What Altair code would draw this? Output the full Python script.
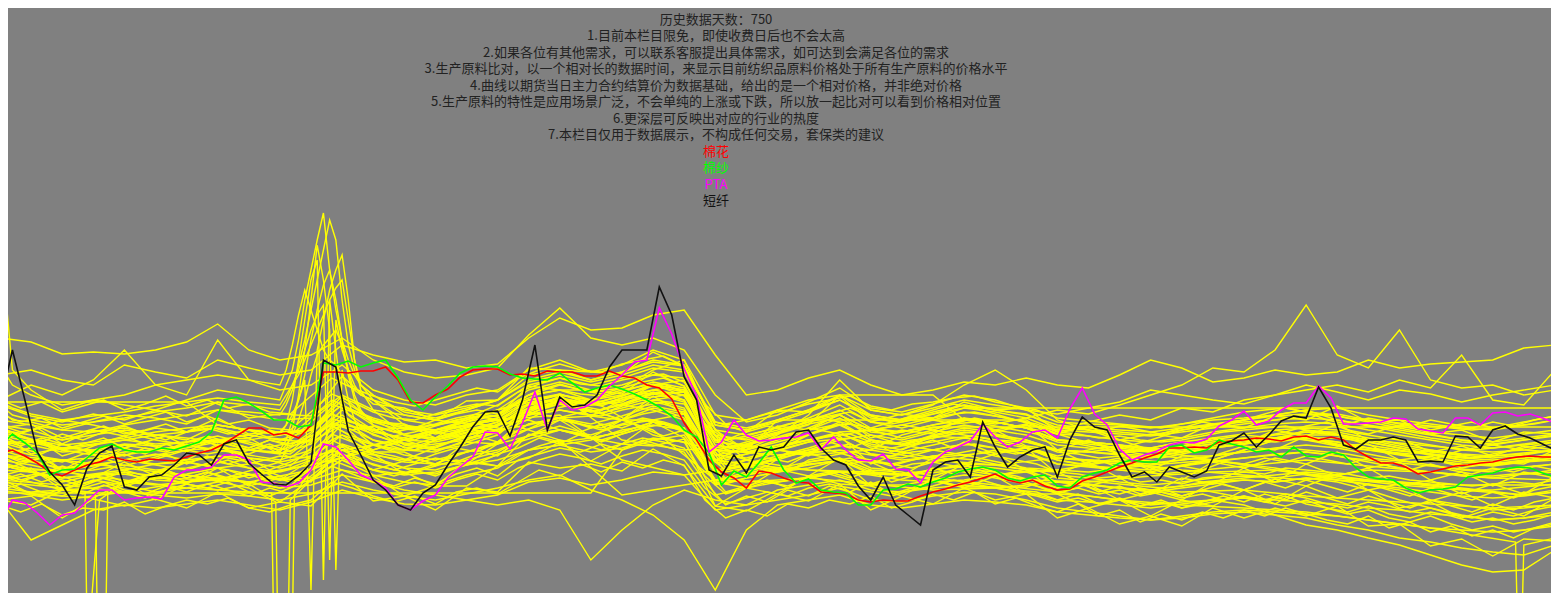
import altair as alt
import pandas as pd

# ---------------- text ----------------
TITLE_LINES = [
    "历史数据天数：750",
    "1.目前本栏目限免，即使收费日后也不会太高",
    "2.如果各位有其他需求，可以联系客服提出具体需求，如可达到会满足各位的需求",
    "3.生产原料比对，以一个相对长的数据时间，来显示目前纺织品原料价格处于所有生产原料的价格水平",
    "4.曲线以期货当日主力合约结算价为数据基础，给出的是一个相对价格，并非绝对价格",
    "5.生产原料的特性是应用场景广泛，不会单纯的上涨或下跌，所以放一起比对可以看到价格相对位置",
    "6.更深层可反映出对应的行业的热度",
    "7.本栏目仅用于数据展示，不构成任何交易，套保类的建议",
]
LEGEND_NAMES = ["棉花", "棉纱", "PTA", "短纤"]
LEGEND_COLORS = ["#ff0000", "#00ff00", "#ff00ff", "#111111"]

# ---------------- x grids (trading day index) ----------------
days6 = list(range(0, 751, 6))
days10 = list(range(0, 751, 10))
days15 = list(range(0, 751, 15))
spike_days = [0, 3, 6] + list(range(15, 136, 15)) + list(range(138, 175, 3)) + list(range(180, 751, 15))

# ---------------- highlighted series (relative price) ----------------
cotton = [147, 150, 144, 137, 128, 124, 130, 135, 138, 143,
          140, 138, 141, 140, 139, 143, 147, 150, 156, 164,
          172, 172, 165, 167, 162, 175, 228, 228, 227, 229,
          229, 233, 220, 198, 197, 205, 211, 223, 230, 231,
          231, 225, 226, 224, 229, 228, 228, 224, 224, 229,
          224, 222, 215, 212, 201, 177, 160, 140, 128, 122,
          112, 129, 127, 122, 118, 117, 108, 107, 106, 100,
          98, 100, 99, 99, 104, 108, 111, 115, 118, 122,
          126, 120, 117, 120, 114, 110, 111, 119, 123, 128,
          133, 137, 142, 146, 152, 152, 153, 152, 158, 159,
          160, 162, 161, 159, 163, 164, 160, 163, 160, 150,
          143, 137, 137, 133, 126, 128, 131, 134, 135, 137,
          138, 141, 143, 144, 143, 143]
yarn = [153, 166, 157, 147, 125, 130, 131, 142, 152, 156,
        150, 148, 148, 152, 150, 154, 158, 168, 200, 203,
        197, 189, 180, 180, 173, 175, 237, 235, 239, 233,
        237, 240, 222, 200, 190, 203, 214, 227, 233, 234,
        233, 226, 222, 221, 220, 227, 217, 208, 212, 215,
        211, 206, 200, 193, 184, 170, 163, 147, 115, 129,
        123, 137, 153, 130, 117, 121, 110, 108, 107, 95,
        95, 110, 111, 116, 113, 118, 122, 128, 131, 133,
        130, 122, 119, 123, 125, 114, 112, 123, 127, 130,
        137, 140, 138, 138, 153, 155, 147, 150, 160, 156,
        153, 148, 150, 143, 153, 144, 143, 148, 145, 132,
        123, 121, 120, 112, 107, 110, 111, 113, 123, 125,
        127, 131, 133, 132, 127, 123]
pta = [77, 100, 97, 87, 75, 85, 87, 99, 110, 110,
       100, 102, 103, 101, 123, 130, 130, 133, 145, 145,
       140, 118, 117, 113, 117, 130, 156, 153, 140, 125,
       120, 112, 95, 90, 99, 105, 122, 133, 143, 168,
       167, 151, 177, 208, 170, 200, 190, 193, 200, 214,
       225, 238, 240, 292, 266, 231, 204, 148, 158, 180,
       165, 159, 160, 162, 163, 167, 150, 163, 150, 140,
       139, 146, 131, 130, 117, 138, 148, 153, 159, 176,
       163, 153, 158, 168, 170, 162, 191, 212, 186, 175,
       151, 140, 145, 149, 155, 158, 157, 161, 174, 180,
       189, 175, 179, 190, 197, 197, 214, 202, 176, 176,
       177, 178, 182, 181, 171, 169, 167, 182, 182, 175,
       187, 188, 184, 186, 182, 177]
staple = [195, 250, 200, 148, 128, 115, 95, 132, 147, 154,
          113, 110, 123, 125, 135, 147, 145, 135, 156, 160,
          137, 126, 116, 115, 124, 137, 240, 233, 169, 145,
          120, 110, 95, 90, 107, 115, 135, 153, 173, 188,
          189, 164, 200, 255, 170, 203, 193, 195, 205, 233,
          250, 250, 250, 313, 285, 223, 200, 130, 124, 145,
          127, 153, 150, 153, 168, 170, 152, 140, 135, 114,
          100, 123, 95, 85, 75, 130, 138, 140, 123, 178,
          153, 133, 143, 150, 153, 123, 160, 183, 173, 170,
          145, 123, 128, 118, 133, 128, 123, 129, 155, 159,
          167, 153, 165, 179, 184, 182, 213, 192, 155, 151,
          160, 160, 163, 160, 138, 139, 138, 164, 163, 152,
          170, 174, 166, 162, 156, 150]

# ---------------- other raw materials (yellow), 15-day grid ----------------
yellow15 = {
    "Y1": [262, 258, 246, 248, 246, 250, 258, 276, 250, 240, 245, 262, 240, 228, 222, 225, 232, 265, 292, 262,
           255, 262, 250, 205, 178, 185, 198, 212, 192, 188, 196, 205, 200, 190, 186, 192, 198, 210, 205, 200,
           196, 205, 215, 208, 200, 210, 206, 198, 205, 210, 215],
    "Y2": [225, 230, 220, 215, 235, 228, 222, 240, 232, 225, 230, 255, 245, 238, 240, 232, 236, 262, 282, 270,
           272, 285, 290, 245, 205, 210, 222, 230, 215, 205, 210, 218, 215, 222, 215, 212, 225, 240, 232, 218,
           222, 230, 225, 228, 240, 232, 236, 238, 240, 252, 255],
    "Y3": [180, 175, 170, 178, 185, 182, 176, 190, 185, 180, 182, 205, 190, 185, 180, 176, 182, 205, 215, 208,
           212, 230, 240, 170, 150, 160, 172, 185, 170, 162, 170, 180, 176, 182, 190, 186, 195, 205, 215, 232,
           228, 250, 295, 245, 232, 270, 220, 212, 215, 205, 210],
    "Y4": [170, 165, 160, 168, 172, 165, 160, 175, 170, 165, 170, 200, 180, 172, 168, 162, 168, 185, 200, 195,
           198, 215, 220, 165, 140, 150, 165, 178, 160, 155, 165, 172, 168, 175, 170, 178, 185, 180, 192, 188,
           200, 205, 210, 215, 208, 220, 212, 245, 200, 195, 230],
    "M1": [195, 184, 178, 186, 180, 190, 184, 198, 182, 186, 184, 224, 196, 192, 180, 199, 200, 232, 230, 228,
           226, 248, 234, 178, 168, 190, 188, 204, 178, 186, 182, 198, 190, 192, 168, 174, 160, 166, 162, 176,
           172, 184, 180, 194, 178, 180, 166, 170, 158, 168, 166],
    "M2": [172, 176, 156, 170, 164, 172, 168, 182, 166, 168, 170, 204, 178, 176, 162, 182, 184, 214, 210, 210,
           206, 228, 214, 164, 152, 174, 170, 186, 162, 170, 166, 182, 170, 176, 150, 160, 146, 152, 148, 162,
           156, 170, 164, 176, 160, 162, 148, 154, 144, 154, 150],
    "M3": [168, 146, 152, 150, 156, 154, 158, 160, 162, 146, 164, 180, 172, 152, 156, 160, 176, 190, 204, 184,
           200, 206, 208, 140, 154, 152, 172, 166, 156, 150, 164, 162, 170, 154, 150, 136, 142, 130, 144, 144,
           154, 150, 164, 154, 156, 140, 144, 132, 138, 136, 150],
    "M4": [146, 152, 130, 146, 140, 146, 140, 156, 136, 144, 142, 176, 148, 148, 134, 158, 156, 188, 182, 184,
           180, 204, 186, 138, 132, 150, 146, 164, 136, 148, 142, 158, 146, 152, 126, 138, 122, 128, 120, 138,
           132, 142, 136, 148, 132, 138, 120, 128, 114, 128, 122],
    "M5": [144, 130, 130, 122, 138, 124, 138, 132, 136, 120, 140, 156, 146, 126, 136, 136, 156, 164, 180, 162,
           180, 180, 186, 116, 134, 128, 146, 140, 138, 124, 142, 136, 146, 130, 128, 114, 122, 106, 122, 116,
           132, 118, 136, 124, 132, 114, 120, 106, 116, 106, 124],
    "M6": [124, 132, 110, 124, 116, 124, 116, 132, 114, 122, 118, 154, 124, 128, 114, 138, 134, 166, 158, 162,
           156, 178, 162, 118, 112, 131, 124, 142, 114, 126, 120, 136, 124, 131, 106, 116, 100, 108, 100, 118,
           110, 121, 114, 126, 110, 116, 99, 108, 94, 108, 102],
    "M7": [122, 106, 104, 102, 118, 100, 116, 110, 116, 98, 120, 130, 124, 104, 114, 114, 134, 142, 158, 139,
           156, 154, 161, 94, 112, 106, 124, 116, 114, 104, 121, 112, 124, 106, 106, 92, 100, 84, 100, 94,
           110, 96, 114, 102, 110, 92, 98, 82, 92, 84, 102],
    "M8": [100, 104, 82, 101, 94, 101, 92, 108, 92, 98, 94, 126, 99, 104, 90, 112, 108, 138, 132, 136,
           129, 151, 134, 94, 89, 106, 99, 116, 90, 104, 96, 112, 100, 106, 82, 92, 76, 84, 74, 92,
           82, 92, 84, 94, 74, 76, 54, 61, 44, 61, 59],
    "M9": [160, 170, 180, 175, 168, 160, 155, 150, 145, 140, 150, 165, 155, 150, 160, 170, 175, 180, 170, 165,
           175, 180, 170, 150, 148, 152, 160, 165, 170, 175, 170, 165, 160, 158, 150, 148, 152, 160, 170, 175,
           180, 185, 190, 180, 175, 170, 165, 160, 155, 160, 165],
    "M10": [120, 125, 130, 138, 145, 150, 155, 160, 165, 160, 158, 175, 170, 172, 175, 180, 190, 200, 205, 200,
            195, 190, 180, 150, 140, 135, 130, 128, 125, 120, 118, 120, 125, 128, 130, 135, 140, 145, 142, 140,
            135, 130, 125, 120, 115, 110, 100, 95, 90, 92, 95],
    "M11": [100, 95, 110, 120, 115, 108, 112, 118, 125, 120, 122, 140, 130, 125, 128, 135, 140, 150, 155, 160,
            170, 175, 170, 140, 135, 140, 150, 160, 165, 155, 150, 145, 148, 152, 140, 135, 130, 128, 135, 140,
            150, 160, 165, 155, 150, 145, 140, 150, 155, 150, 148],
    "M12": [155, 160, 150, 145, 140, 135, 130, 140, 150, 155, 160, 190, 170, 160, 150, 155, 165, 190, 200, 190,
            180, 200, 205, 160, 150, 165, 185, 220, 190, 185, 195, 215, 230, 210, 180, 170, 160, 150, 145, 140,
            150, 160, 170, 165, 155, 150, 145, 140, 135, 138, 140],
    "M13": [200, 215, 205, 220, 250, 215, 205, 260, 220, 210, 215, 235, 210, 200, 195, 205, 210, 230, 240, 228,
            235, 250, 240, 185, 180, 190, 200, 205, 190, 185, 192, 200, 195, 190, 178, 176, 175, 172, 176, 180,
            182, 185, 190, 192, 185, 180, 176, 172, 170, 175, 180],
    "M14": [135, 128, 118, 125, 128, 124, 126, 132, 126, 120, 130, 150, 135, 128, 126, 136, 145, 165, 170, 162,
            168, 178, 172, 115, 122, 128, 132, 140, 126, 125, 130, 136, 135, 130, 118, 115, 112, 108, 112, 116,
            120, 118, 122, 118, 110, 100, 92, 85, 80, 82, 88],
    "M15": [125, 118, 110, 112, 118, 115, 118, 122, 118, 112, 120, 140, 125, 118, 115, 125, 132, 150, 155, 148,
            152, 162, 158, 105, 112, 118, 122, 128, 115, 115, 120, 125, 124, 118, 106, 104, 100, 95, 98, 100,
            95, 85, 75, 70, 62, 55, 45, 35, 28, 30, 50],
    "M16": [100, 60, 75, 90, 95, 92, 96, 100, 95, 90, 98, 110, 102, 96, 95, 100, 105, 118, 122, 115,
            120, 128, 125, 90, 95, 100, 105, 112, 100, 98, 104, 108, 106, 100, 92, 88, 84, 80, 82, 86,
            88, 85, 82, 75, 70, 62, 58, 52, 48, 45, 55],
    "L1": [130, 128, 122, 125, 126, 120, 118, 120, 118, 112, 115, 125, 118, 110, 105, 100, 95, 100, 90, 40,
           70, 95, 110, 100, 95, 110, 115, 120, 110, 108, 112, 115, 112, 108, 100, 98, 95, 92, 96, 100,
           102, 100, 98, 96, 92, 90, 86, 84, 80, 82, 85],
    "L2": [110, 105, 100, 104, 108, 105, 102, 106, 104, 100, 106, 118, 110, 104, 100, 106, 112, 120, 125, 110,
           100, 85, 60, 10, 70, 95, 100, 105, 95, 92, 96, 100, 98, 95, 88, 85, 82, 80, 84, 88,
           90, 88, 86, 84, 80, 76, 72, 70, 68, 70, 74],
    "F1": [107] * 20 + [150, 160, 165, 120, 125, 130, 135, 140, 128, 126, 130, 134, 132, 128, 118, 116, 112, 110,
                        114, 118, 120, 118, 122, 120, 116, 112, 108, 104, 102, 104, 108],
    "F2": [198, 198, 198, 198, 198, 198, 198, 175, 170, 165, 172, 195, 180, 172, 170, 178, 185, 205, 210, 200,
           205, 215, 210, 160, 162, 170, 178, 185, 170, 168, 175, 180, 178, 172, 160, 158, 155, 150, 154, 160,
           165, 162, 168, 168, 162, 156, 150, 146, 144, 146, 150],
    "F4": [160, 155, 148, 150, 155, 150, 152, 158, 150, 146, 156, 180, 160, 150, 148, 160, 170, 190, 196, 188,
           195, 206, 200, 140, 146, 155, 160, 168, 170, 175, 182] + [192] * 20,
    "F5": [145, 140, 130, 134, 140, 136, 138, 144, 138, 132, 142, 165, 146, 138, 136, 148, 156, 176, 182, 172,
           180, 192, 186, 128, 134, 142, 148, 155, 150, 165] + [173] * 21,
    "F6": [175, 170, 160, 165, 170, 165, 168, 172, 165, 160, 170, 195, 175, 165, 162, 172, 182, 200, 206, 196,
           204, 216, 210, 150, 156, 166, 175, 205, 205, 205, 205, 180, 178, 172, 160, 158, 155, 150, 154, 158,
           162, 160, 165, 165, 160, 154, 148, 145, 142, 145, 150],
    "F7": [140, 135, 128, 130, 135, 130, 132, 138, 132, 128, 136, 155, 140, 132, 130, 140, 148, 165, 170, 162,
           168, 178, 172, 120, 125, 132, 138, 142, 130, 128, 120, 113, 113, 113, 125, 122, 118, 115, 118, 122,
           124, 122, 126, 124, 120, 118, 116, 115, 115, 115, 115],
    "F8": [168, 160, 152, 156, 160, 156, 158, 164, 156, 150, 160, 185, 165, 156, 152, 164, 174, 192, 198, 188,
           196, 208, 200, 145, 150, 180, 180, 180, 180, 180, 180, 180, 180, 180, 160, 156, 152, 148, 152, 156,
           160, 158, 162, 162, 158, 152, 146, 142, 140, 142, 146],
}

# ---------------- more raw materials (yellow), 10-day grid ----------------
yellow10 = {
    "J1": [95, 88, 96, 85, 92, 90, 98, 86, 94, 100, 96, 102, 92, 88, 95, 100, 118, 112, 104, 98,
           104, 96, 108, 112, 106, 118, 130, 124, 136, 128, 138, 132, 140, 135, 100, 82, 90, 84, 96, 92,
           100, 96, 104, 92, 98, 106, 100, 108, 96, 102, 94, 88, 96, 84, 90, 78, 86, 80, 88, 82,
           90, 84, 92, 86, 80, 76, 84, 72, 78, 68, 74, 64, 70, 62, 72, 78],
    "J2": [118, 110, 104, 112, 106, 115, 108, 102, 110, 116, 112, 118, 108, 104, 112, 124, 140, 132, 120, 114,
           122, 116, 126, 132, 124, 140, 146, 152, 148, 156, 150, 160, 154, 148, 118, 95, 104, 98, 110, 104,
           114, 108, 118, 106, 112, 120, 114, 122, 116, 110, 108, 100, 106, 96, 102, 94, 100, 92, 98, 104,
           98, 106, 100, 108, 102, 96, 104, 98, 92, 100, 94, 88, 96, 90, 98, 102],
    "J3": [128, 120, 126, 114, 120, 126, 118, 124, 130, 122, 128, 120, 126, 118, 114, 132, 150, 140, 130, 136,
           128, 134, 140, 136, 146, 152, 162, 156, 166, 158, 166, 172, 164, 170, 132, 108, 114, 120, 112, 124,
           128, 122, 130, 118, 124, 132, 126, 134, 128, 122, 120, 112, 118, 108, 114, 106, 112, 104, 110, 116,
           110, 118, 112, 120, 114, 108, 116, 110, 104, 112, 106, 100, 108, 102, 110, 114],
    "J4": [138, 132, 126, 134, 128, 136, 130, 124, 132, 138, 134, 140, 132, 126, 132, 140, 160, 150, 142, 136,
           142, 136, 146, 150, 144, 160, 168, 174, 168, 176, 172, 180, 176, 170, 140, 116, 122, 126, 130, 136,
           138, 142, 132, 130, 136, 138, 142, 140, 136, 132, 130, 122, 120, 118, 116, 114, 112, 114, 118, 120,
           122, 124, 126, 128, 126, 122, 120, 118, 116, 114, 112, 110, 110, 112, 114, 116],
    "J5": [146, 138, 142, 130, 136, 142, 134, 140, 146, 136, 144, 136, 142, 130, 138, 148, 166, 158, 148, 144,
           138, 146, 152, 148, 158, 166, 176, 182, 176, 172, 180, 186, 190, 182, 142, 120, 126, 132, 128, 140,
           144, 148, 138, 136, 140, 144, 146, 150, 144, 140, 136, 128, 126, 122, 124, 118, 120, 116, 122, 124,
           128, 126, 132, 130, 128, 126, 122, 124, 120, 118, 116, 114, 116, 118, 116, 120],
    "J6": [150, 144, 136, 140, 134, 142, 146, 138, 144, 150, 146, 150, 142, 140, 134, 152, 174, 164, 156, 150,
           150, 154, 160, 164, 158, 176, 186, 190, 186, 184, 190, 194, 198, 192, 154, 128, 132, 138, 146, 150,
           152, 156, 146, 144, 148, 150, 154, 156, 152, 148, 144, 136, 134, 132, 130, 128, 126, 128, 130, 132,
           134, 136, 138, 140, 138, 136, 134, 132, 130, 128, 126, 124, 124, 126, 126, 128],
    "J7": [156, 148, 158, 144, 150, 140, 152, 146, 156, 148, 158, 150, 146, 154, 142, 158, 178, 170, 160, 156,
           150, 160, 164, 170, 166, 182, 190, 196, 192, 186, 194, 200, 196, 190, 158, 132, 140, 134, 148, 144,
           158, 152, 160, 148, 154, 160, 152, 162, 156, 150, 148, 140, 136, 140, 132, 136, 128, 134, 130, 138,
           136, 142, 138, 144, 140, 136, 142, 134, 130, 136, 130, 126, 132, 128, 134, 130],
    "J8": [158, 152, 146, 156, 150, 146, 152, 158, 150, 154, 158, 152, 150, 148, 146, 162, 182, 174, 166, 158,
           156, 162, 168, 172, 170, 184, 192, 198, 194, 190, 196, 202, 204, 198, 160, 136, 140, 146, 152, 158,
           160, 162, 154, 152, 156, 158, 162, 164, 160, 156, 150, 142, 140, 138, 136, 134, 132, 134, 138, 140,
           142, 144, 146, 148, 146, 142, 140, 138, 136, 134, 132, 130, 130, 132, 134, 136],
    "J9": [164, 156, 160, 150, 156, 162, 152, 158, 164, 154, 162, 156, 150, 156, 148, 166, 186, 178, 168, 164,
           160, 168, 172, 176, 174, 188, 196, 202, 198, 194, 202, 206, 208, 200, 164, 140, 146, 150, 156, 160,
           164, 166, 158, 156, 160, 162, 166, 168, 164, 160, 156, 148, 146, 142, 144, 140, 138, 140, 142, 146,
           148, 150, 152, 150, 148, 146, 142, 140, 138, 140, 136, 134, 136, 138, 140, 142],
    "J10": [175, 168, 172, 162, 168, 174, 166, 170, 176, 168, 172, 166, 170, 162, 160, 178, 196, 188, 178, 172,
            170, 176, 182, 186, 184, 198, 206, 210, 206, 204, 210, 214, 216, 208, 172, 150, 156, 160, 166, 170,
            174, 176, 168, 166, 170, 172, 176, 178, 174, 170, 166, 158, 156, 152, 154, 150, 148, 150, 152, 156,
            158, 160, 162, 160, 158, 154, 152, 150, 148, 146, 144, 142, 144, 146, 148, 150],
    "J11": [186, 178, 182, 172, 178, 184, 176, 182, 188, 178, 184, 176, 180, 172, 170, 188, 206, 198, 188, 182,
            180, 186, 192, 196, 194, 208, 216, 222, 216, 214, 220, 224, 226, 218, 182, 160, 164, 170, 176, 180,
            184, 188, 178, 176, 180, 182, 186, 188, 184, 180, 176, 168, 166, 162, 164, 160, 158, 160, 164, 168,
            170, 172, 174, 170, 168, 164, 160, 158, 156, 154, 152, 150, 152, 154, 156, 158],
    "J12": [200, 192, 198, 188, 194, 200, 190, 196, 204, 194, 200, 192, 196, 188, 186, 204, 222, 212, 204, 198,
            194, 200, 206, 212, 208, 222, 230, 236, 230, 228, 236, 240, 244, 234, 196, 176, 180, 186, 190, 196,
            200, 204, 194, 190, 196, 198, 202, 204, 198, 194, 190, 182, 180, 178, 176, 174, 172, 176, 180, 184,
            188, 190, 192, 188, 186, 182, 180, 178, 176, 174, 172, 170, 172, 174, 176, 180],
    "J13": [130, 136, 142, 138, 146, 150, 144, 152, 148, 156, 150, 158, 152, 160, 156, 164, 176, 170, 174, 168,
            172, 166, 170, 176, 172, 168, 174, 180, 176, 170, 176, 182, 178, 172, 146, 130, 136, 142, 138, 146,
            150, 144, 140, 136, 132, 138, 134, 130, 128, 124, 118, 112, 116, 110, 106, 112, 108, 104, 110, 106,
            102, 98, 104, 96, 92, 88, 94, 86, 82, 88, 84, 78, 82, 76, 80, 86],
    "J14": [120, 126, 118, 124, 116, 122, 128, 120, 126, 118, 124, 130, 122, 128, 120, 136, 150, 142, 136, 130,
            136, 142, 138, 146, 150, 158, 164, 170, 166, 160, 166, 172, 176, 168, 140, 122, 128, 134, 130, 138,
            142, 136, 140, 134, 140, 144, 140, 146, 150, 146, 150, 144, 148, 152, 146, 150, 154, 158, 152, 156,
            160, 164, 168, 174, 178, 170, 166, 172, 176, 170, 174, 178, 172, 176, 180, 184],
    "J15": [110, 116, 108, 104, 112, 118, 110, 106, 114, 108, 116, 110, 104, 112, 106, 120, 134, 126, 118, 112,
            118, 112, 120, 126, 120, 132, 140, 146, 142, 136, 144, 150, 146, 140, 112, 96, 102, 108, 104, 112,
            116, 112, 108, 104, 110, 114, 120, 116, 112, 108, 104, 98, 102, 96, 100, 94, 98, 92, 96, 100,
            104, 100, 106, 102, 96, 92, 98, 94, 88, 92, 86, 82, 88, 84, 90, 94],
    "J16": [170, 164, 158, 166, 160, 168, 174, 166, 160, 168, 174, 168, 162, 170, 164, 182, 200, 190, 182, 176,
            172, 180, 186, 190, 186, 200, 210, 216, 210, 206, 212, 218, 222, 214, 176, 152, 158, 164, 170, 176,
            180, 176, 172, 178, 184, 180, 176, 182, 178, 174, 170, 166, 172, 168, 174, 170, 166, 172, 178, 174,
            180, 186, 192, 188, 180, 176, 182, 178, 174, 180, 176, 172, 178, 174, 180, 184],
    "J17": [124, 118, 126, 120, 114, 122, 116, 124, 130, 122, 128, 122, 116, 124, 118, 130, 146, 138, 130, 124,
            130, 124, 132, 138, 134, 146, 154, 160, 156, 150, 156, 162, 158, 152, 124, 106, 112, 118, 114, 122,
            126, 120, 116, 122, 128, 124, 130, 126, 122, 118, 114, 108, 112, 106, 110, 104, 108, 102, 106, 100,
            104, 98, 94, 100, 92, 86, 90, 82, 78, 84, 76, 70, 74, 68, 72, 76],
    "J18": [160, 154, 162, 156, 150, 158, 164, 156, 150, 158, 164, 158, 152, 160, 154, 168, 186, 178, 170, 164,
            168, 174, 180, 184, 180, 192, 200, 206, 200, 196, 202, 208, 212, 204, 176, 160, 168, 174, 170, 180,
            186, 192, 184, 178, 184, 190, 196, 192, 186, 180, 174, 166, 160, 156, 150, 146, 142, 146, 150, 154,
            156, 160, 164, 160, 156, 152, 150, 148, 146, 150, 146, 142, 146, 150, 154, 158],
}

# ---------------- spiking raw materials (finer grid around the spike) ----------------
yellow_spike = {
    "S1": [200, 298, 230, 210, 190, 200, 195, 190, 200, 210, 205, 200,
           215, 230, 260, 300, 330, 360, 387, 330, 290, 260, 240, 225, 215, 205,
           185, 180, 190, 200, 225, 230, 220, 228, 240, 235, 175, 170, 180, 190, 205, 185, 180, 186, 195, 190,
           186, 172, 170, 168, 165, 170, 175, 178, 180, 185, 186, 180, 174, 168, 165, 162, 166, 170],
    "S2": [175, 185, 180, 178, 170, 168, 175, 180, 185, 190, 188, 185,
           195, 210, 235, 260, 290, 320, 350, 380, 360, 300, 255, 230, 215, 200,
           175, 170, 178, 190, 210, 218, 210, 215, 225, 222, 165, 160, 168, 178, 190, 172, 168, 175, 182, 178,
           172, 160, 158, 155, 152, 158, 162, 166, 170, 172, 170, 165, 160, 155, 150, 148, 150, 155],
    "S3": [160, 165, 162, 158, 150, 155, 160, 165, 162, 158, 160, 165,
           175, 200, 240, 280, 320, 340, 20, 300, 250, 200, 185, 180, 175, 170,
           160, 158, 165, 175, 195, 200, 195, 200, 210, 205, 150, 148, 155, 165, 175, 160, 155, 162, 168, 165,
           160, 150, 148, 145, 142, 148, 152, 156, 160, 162, 158, 152, 146, 140, 136, 134, 138, 142],
    "S4": [150, 155, 150, 145, 140, 142, 148, 150, 155, 160, 158, 150,
           160, 180, 200, 220, 10, 250, 280, 310, 330, 345, 300, 240, 210, 190,
           165, 162, 170, 178, 200, 205, 200, 208, 218, 212, 158, 155, 162, 170, 182, 165, 160, 168, 175, 170,
           165, 155, 152, 150, 148, 152, 156, 160, 165, 168, 165, 158, 152, 146, 140, 138, 142, 145],
    "S5": [185, 190, 185, 180, 175, 178, 182, 188, 192, 198, 195, 190,
           200, 215, 230, 250, 270, 285, 295, 40, 280, 250, 230, 215, 205, 200,
           180, 175, 182, 195, 215, 222, 215, 222, 232, 228, 170, 165, 172, 182, 195, 178, 172, 180, 188, 184,
           178, 166, 164, 160, 158, 162, 168, 172, 176, 178, 176, 170, 165, 160, 155, 152, 156, 160],
    "S6": [140, 145, 142, 138, 132, 135, 140, 145, 150, 152, 150, 148,
           155, 165, 180, 200, 225, 245, 255, 262, 270, 255, 230, 205, 190, 175,
           155, 150, 158, 168, 185, 190, 185, 192, 200, 196, 145, 142, 150, 158, 168, 152, 148, 155, 162, 158,
           152, 142, 140, 138, 136, 140, 144, 148, 152, 155, 152, 146, 140, 135, 130, 128, 132, 136],
    "S7": [210, 225, 215, 205, 195, 200, 205, 215, 220, 225, 220, 215,
           230, 255, 285, 310, 290, 270, 250, 240, 235, 225, 215, 210, 205, 200,
           190, 185, 192, 200, 218, 225, 218, 225, 235, 230, 178, 172, 180, 190, 200, 185, 180, 188, 195, 190,
           185, 175, 172, 170, 168, 172, 176, 180, 184, 186, 184, 178, 172, 166, 160, 158, 162, 166],
    "S8": [165, 170, 168, 160, 155, 158, 162, 168, 172, 175, 170, 168,
           175, 185, 200, 225, 260, 290, 315, 330, 300, 260, 225, 200, 188, 180,
           165, 160, 168, 178, 196, 202, 196, 204, 214, 208, 155, 150, 158, 166, 176, 160, 156, 164, 170, 166,
           160, 150, 148, 146, 144, 148, 152, 156, 160, 162, 158, 152, 146, 142, 138, 136, 140, 144],
    "S9": [130, 135, 132, 128, 122, 126, 130, 136, 140, 144, 142, 138,
           150, 170, 205, 250, 300, 355, 320, 270, 30, 230, 200, 180, 165, 155,
           145, 140, 148, 158, 176, 182, 176, 184, 194, 188, 140, 136, 144, 152, 162, 146, 142, 150, 156, 152,
           146, 136, 134, 132, 130, 134, 138, 142, 146, 148, 144, 138, 132, 128, 124, 122, 126, 130],
    "S10": [190, 195, 192, 186, 180, 184, 188, 194, 198, 202, 198, 195,
            205, 215, 225, 240, 255, 270, 285, 300, 312, 320, 280, 240, 215, 205,
            188, 182, 190, 200, 220, 228, 220, 228, 238, 234, 175, 170, 178, 188, 200, 182, 178, 186, 192, 188,
            182, 170, 168, 166, 164, 168, 172, 176, 180, 182, 180, 174, 168, 162, 158, 156, 160, 164],
}

# ---------------- raw materials with missing-data gaps (own day lists) ----------------
gap_days = {
    "D1": [0, 15, 30, 41, 42, 43, 48, 60, 90, 120, 150, 180, 210, 240, 270, 300, 330, 345, 360, 390, 420, 450,
           480, 510, 540, 570, 600, 630, 660, 690, 720, 750],
    "D2": [0, 30, 46, 47, 51, 52, 75, 105, 135, 165, 195, 225, 255, 285, 315, 345, 375, 405, 435, 465, 495, 525,
           555, 585, 615, 645, 675, 705, 735, 750],
    "D3": [0, 30, 60, 90, 120, 131, 132, 139, 140, 150, 165, 195, 225, 255, 285, 315, 345, 375, 405, 435, 465,
           495, 525, 555, 585, 615, 645, 675, 705, 735, 750],
    "D4": [0, 30, 60, 90, 120, 133, 134, 141, 142, 150, 160, 180, 210, 240, 270, 300, 330, 360, 390, 420, 450,
           480, 510, 540, 570, 600, 630, 660, 690, 720, 750],
    "D5": [0, 30, 60, 90, 120, 150, 180, 210, 240, 270, 300, 330, 360, 390, 420, 450, 480, 510, 540, 570, 600,
           630, 660, 690, 710, 731, 732, 734, 735, 750],
}
gap_vals = {
    "D1": [112, 108, 110, 108, -30, -30, 100, 118, 125, 118, 130, 155, 170, 180, 160, 105, 115, 120, 118, 122,
           116, 110, 112, 118, 112, 108, 110, 104, 100, 96, 92, 95],
    "D2": [118, 112, 107, -30, -30, 110, 122, 120, 138, 150, 140, 165, 175, 190, 170, 120, 118, 128, 125, 130,
           120, 118, 124, 128, 130, 122, 115, 110, 105, 108],
    "D3": [135, 128, 120, 112, 108, 107, -30, -30, 100, 120, 150, 160, 175, 185, 200, 165, 150, 145, 150, 140,
           145, 132, 128, 135, 140, 132, 120, 118, 112, 105, 110],
    "D4": [145, 140, 132, 125, 112, 98, -30, -30, 105, 130, 175, 150, 170, 190, 205, 160, 150, 155, 145, 150,
           140, 135, 142, 138, 130, 125, 120, 130, 128, 122, 120],
    "D5": [120, 115, 108, 118, 125, 135, 150, 170, 180, 185, 140, 125, 135, 130, 128, 122, 115, 108, 100, 95,
           92, 88, 80, 72, 65, 58, -30, -30, 55, 62],
}

# ---------------- build tables ----------------
rows = []
for name, vals in yellow15.items():
    rows += [{"series": name, "day": d, "value": v} for d, v in zip(days15, vals)]
for name, vals in yellow10.items():
    rows += [{"series": name, "day": d, "value": v} for d, v in zip(days10, vals)]
for name, vals in yellow_spike.items():
    rows += [{"series": name, "day": d, "value": v} for d, v in zip(spike_days, vals)]
for name, vals in gap_vals.items():
    rows += [{"series": name, "day": d, "value": v} for d, v in zip(gap_days[name], vals)]
yellow_df = pd.DataFrame(rows)

highlight = {"棉花": cotton, "棉纱": yarn, "PTA": pta, "短纤": staple}

X_SCALE = alt.Scale(domain=[3.86, 748.1], nice=False, zero=False)
Y_SCALE = alt.Scale(domain=[7, 592], nice=False, zero=False)

base_x = alt.X("day:Q", scale=X_SCALE, axis=None)
base_y = alt.Y("value:Q", scale=Y_SCALE, axis=None)

layers = [
    alt.Chart(yellow_df).mark_line(color="#ffff00", strokeWidth=1.4, clip=True).encode(
        x=base_x, y=base_y, detail="series:N", order="day:Q"
    )
]

draw_order = ["棉花", "棉纱", "PTA", "短纤"]
for name in draw_order:
    color = LEGEND_COLORS[LEGEND_NAMES.index(name)]
    df = pd.DataFrame({"day": days6, "value": highlight[name], "series": name})
    layers.append(
        alt.Chart(df).mark_line(color=color, strokeWidth=1.6, clip=True).encode(
            x=base_x, y=base_y, order="day:Q"
        )
    )

# text block (title lines + coloured legend names), 16.5 px line pitch
text_y = [11.5, 28, 44.5, 61, 77.5, 94, 110.5, 127]
for line, ty in zip(TITLE_LINES, text_y):
    layers.append(
        alt.Chart(pd.DataFrame({"t": [line]})).mark_text(
            font="Noto Sans CJK SC", fontSize=13, color="#222222", baseline="middle", align="center"
        ).encode(text="t:N", x=alt.value(708), y=alt.value(ty))
    )
legend_y = [143.5, 160, 176.5, 193]
for name, color, ty in zip(LEGEND_NAMES, LEGEND_COLORS, legend_y):
    layers.append(
        alt.Chart(pd.DataFrame({"t": [name]})).mark_text(
            font="Noto Sans CJK SC", fontSize=13, color=color, baseline="middle", align="center"
        ).encode(text="t:N", x=alt.value(708), y=alt.value(ty))
    )

chart = alt.layer(*layers).properties(
    width=1543, height=585, padding=0, background="#808080",
    autosize=alt.AutoSizeParams(type="none"),
).configure_view(stroke=None)

chart.save("out.html", embed_options={"renderer": "svg", "actions": False})
